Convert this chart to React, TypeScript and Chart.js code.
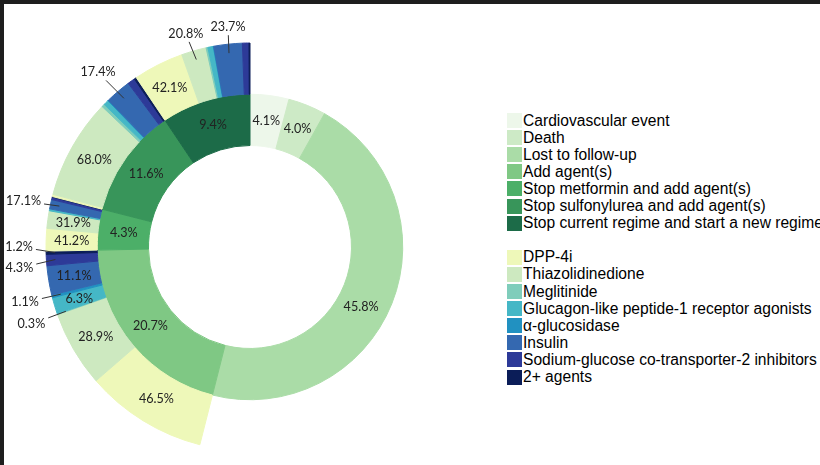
import React, { useEffect, useRef } from 'react';
import { Chart, registerables } from 'chart.js';

Chart.register(...registerables);

// ---- data ----
const outcomeLabels = [
  'Cardiovascular event',
  'Death',
  'Lost to follow-up',
  'Add agent(s)',
  'Stop metformin and add agent(s)',
  'Stop sulfonylurea and add agent(s)',
  'Stop current regime and start a new regime',
];
const outcomeValues = [4.1, 4.0, 45.8, 20.7, 4.3, 11.6, 9.4];
const outcomeColors = ['#edf7ea', '#cdeac6', '#aadca7', '#7fc884', '#4caf68', '#38955a', '#1c6b48'];

const agentLabels = [
  'DPP-4i',
  'Thiazolidinedione',
  'Meglitinide',
  'Glucagon-like peptide-1 receptor agonists',
  'α-glucosidase',
  'Insulin',
  'Sodium-glucose co-transporter-2 inhibitors',
  '2+ agents',
];
const agentColors = ['#eef8b9', '#cde9c0', '#7fcdbb', '#45b7c6', '#2191c1', '#3468b0', '#2d3a98', '#0b1d58'];

// share of each agent class inside an outcome (%), in agentLabels order
const addAgentSplit = [46.5, 28.9, 0.3, 6.3, 1.1, 11.1, 4.3, 1.2];
const stopMetforminSplit = [41.2, 31.9, 0.0, 3.5, 0.0, 17.1, 4.6, 1.0];
const stopSulfonylureaSplit = [1.5, 68.0, 2.0, 3.5, 0.5, 17.4, 5.0, 1.6];
const newRegimeSplit = [42.1, 20.8, 1.5, 4.5, 0.5, 23.7, 5.5, 0.8];

// which agent shares carry a printed label, per outcome
const addAgentLabelled = [0, 1, 2, 3, 4, 5, 6, 7];
const stopMetforminLabelled = [0, 1, 5];
const stopSulfonylureaLabelled = [1, 5];
const newRegimeLabelled = [0, 1, 5];

const splitsByOutcome: Record<number, number[]> = {
  3: addAgentSplit,
  4: stopMetforminSplit,
  5: stopSulfonylureaSplit,
  6: newRegimeSplit,
};
const labelledByOutcome: Record<number, number[]> = {
  3: addAgentLabelled,
  4: stopMetforminLabelled,
  5: stopSulfonylureaLabelled,
  6: newRegimeLabelled,
};

// labels drawn outside the ring with a leader line: offset of text from arc's outer mid point
const outsideLabelOffsets: Record<string, [number, number]> = {
  '3-2': [-26, 10],
  '3-4': [-27, 6],
  '3-6': [-27, 8],
  '3-7': [-27, -6],
  '4-5': [-27, -3],
  '5-5': [-20, -19],
  '6-1': [-8, -17],
  '6-5': [0, -17],
};
// small nudges of inner-ring labels (px)
const innerLabelNudge: Record<number, [number, number]> = {
  2: [-7, 13],
};

const fmt = (v: number) => v.toFixed(1) + '%';

export default function App() {
  const canvasRef = useRef<HTMLCanvasElement | null>(null);

  useEffect(() => {
    const canvas = canvasRef.current;
    if (!canvas) return;

    // build the outer ring
    const outerData: number[] = [];
    const outerColors: string[] = [];
    const outerMeta: { outcome: number; agent: number; value: number }[] = [];
    outcomeValues.forEach((ov, oi) => {
      const split = splitsByOutcome[oi];
      if (!split) {
        outerData.push(ov);
        outerColors.push('rgba(0,0,0,0)');
        outerMeta.push({ outcome: oi, agent: -1, value: 0 });
      } else {
        const s = split.reduce((a, b) => a + b, 0);
        split.forEach((v, ai) => {
          outerData.push((ov * v) / s);
          outerColors.push(agentColors[ai]);
          outerMeta.push({ outcome: oi, agent: ai, value: v });
        });
      }
    });

    const labelPlugin = {
      id: 'sunLabels',
      afterDatasetsDraw(chart: any) {
        const ctx = chart.ctx as CanvasRenderingContext2D;
        ctx.save();
        ctx.font = '12.6px Lato, "Open Sans", sans-serif';
        ctx.fillStyle = '#222';
        ctx.textAlign = 'center';
        ctx.textBaseline = 'middle';
        // inner ring
        const innerMeta = chart.getDatasetMeta(1);
        innerMeta.data.forEach((arc: any, i: number) => {
          const p = arc.getProps(['x', 'y', 'startAngle', 'endAngle', 'innerRadius', 'outerRadius'], true);
          const a = (p.startAngle + p.endAngle) / 2;
          const r = (p.innerRadius + p.outerRadius) / 2;
          const n = innerLabelNudge[i] || [0, 0];
          ctx.fillText(fmt(outcomeValues[i]), p.x + r * Math.cos(a) + n[0], p.y + r * Math.sin(a) + n[1]);
        });
        // outer ring
        const oMeta = chart.getDatasetMeta(0);
        oMeta.data.forEach((arc: any, i: number) => {
          const m = outerMeta[i];
          if (m.agent < 0) return;
          if (!labelledByOutcome[m.outcome].includes(m.agent)) return;
          const p = arc.getProps(['x', 'y', 'startAngle', 'endAngle', 'innerRadius', 'outerRadius'], true);
          const a = (p.startAngle + p.endAngle) / 2;
          const key = m.outcome + '-' + m.agent;
          const txt = fmt(m.value);
          const off = outsideLabelOffsets[key];
          if (!off) {
            const r = (p.innerRadius + p.outerRadius) / 2;
            ctx.fillText(txt, p.x + r * Math.cos(a), p.y + r * Math.sin(a));
          } else {
            const ax = p.x + p.outerRadius * Math.cos(a);
            const ay = p.y + p.outerRadius * Math.sin(a);
            const tx = ax + off[0];
            const ty = ay + off[1];
            const rin = p.outerRadius - 9;
            const ix = p.x + rin * Math.cos(a);
            const iy = p.y + rin * Math.sin(a);
            const w = ctx.measureText(txt).width / 2 + 3;
            const h = 6 + 2;
            const dx = ix - tx;
            const dy = iy - ty;
            const s = Math.min(Math.abs(dx) > 0.01 ? w / Math.abs(dx) : 1e9, Math.abs(dy) > 0.01 ? h / Math.abs(dy) : 1e9);
            const sx = tx + dx * Math.min(s, 0.9);
            const sy = ty + dy * Math.min(s, 0.9);
            ctx.strokeStyle = '#333';
            ctx.lineWidth = 1;
            ctx.beginPath();
            ctx.moveTo(sx, sy);
            ctx.lineTo(ix, iy);
            ctx.stroke();
            ctx.fillText(txt, tx, ty);
          }
        });
        ctx.restore();
      },
    };

    const chart = new Chart(canvas, {
      type: 'doughnut',
      data: {
        labels: outerMeta.map((m) => (m.agent < 0 ? outcomeLabels[m.outcome] : agentLabels[m.agent])),
        datasets: [
          {
            data: outerData,
            backgroundColor: outerColors,
            borderColor: outerColors,
            borderWidth: 1,
          },
          {
            data: outcomeValues,
            backgroundColor: outcomeColors,
            borderColor: outcomeColors,
            borderWidth: 1,
          },
        ],
      },
      options: {
        animation: false,
        responsive: false,
        maintainAspectRatio: false,
        events: [],
        cutout: '49.75%',
        layout: { padding: { left: 45.5, right: 45.5, top: 42.5, bottom: 13.5 } },
        plugins: { legend: { display: false }, tooltip: { enabled: false } },
      } as any,
      plugins: [labelPlugin],
    });
    return () => chart.destroy();
  }, []);

  const rowTop = (i: number) => 120.5 + i * 17.1;

  const legendRow = (label: string, color: string, idx: number) => (
    <div
      key={label}
      style={{
        position: 'absolute',
        left: 507,
        top: rowTop(idx) - 9,
        height: 18,
        width: 330,
        whiteSpace: 'nowrap',
      }}
    >
      <div
        style={{
          position: 'absolute',
          left: 0,
          top: 1.5,
          width: 15,
          height: 15,
          background: color,
        }}
      />
      <div
        style={{
          position: 'absolute',
          left: 16,
          top: 0,
          height: 18,
          lineHeight: '18px',
          fontFamily: '"Liberation Sans", Arial, sans-serif',
          fontSize: 15.6,
          color: '#000',
        }}
      >
        {label}
      </div>
    </div>
  );

  return (
    <div
      style={{
        position: 'fixed',
        left: 0,
        top: 0,
        width: 820,
        height: 465,
        overflow: 'hidden',
        background: '#fff',
      }}
    >
      <canvas
        ref={canvasRef}
        width={500}
        height={465}
        style={{ position: 'absolute', left: 0, top: 0, width: 500, height: 465 }}
      />
      {outcomeLabels.map((l, i) => legendRow(l, outcomeColors[i], i))}
      {agentLabels.map((l, i) => legendRow(l, agentColors[i], i + 8))}
      <div style={{ position: 'absolute', left: 0, top: 0, width: 820, height: 4, background: '#1e1e1e' }} />
      <div style={{ position: 'absolute', left: 0, top: 0, width: 4, height: 465, background: '#1e1e1e' }} />
    </div>
  );
}
